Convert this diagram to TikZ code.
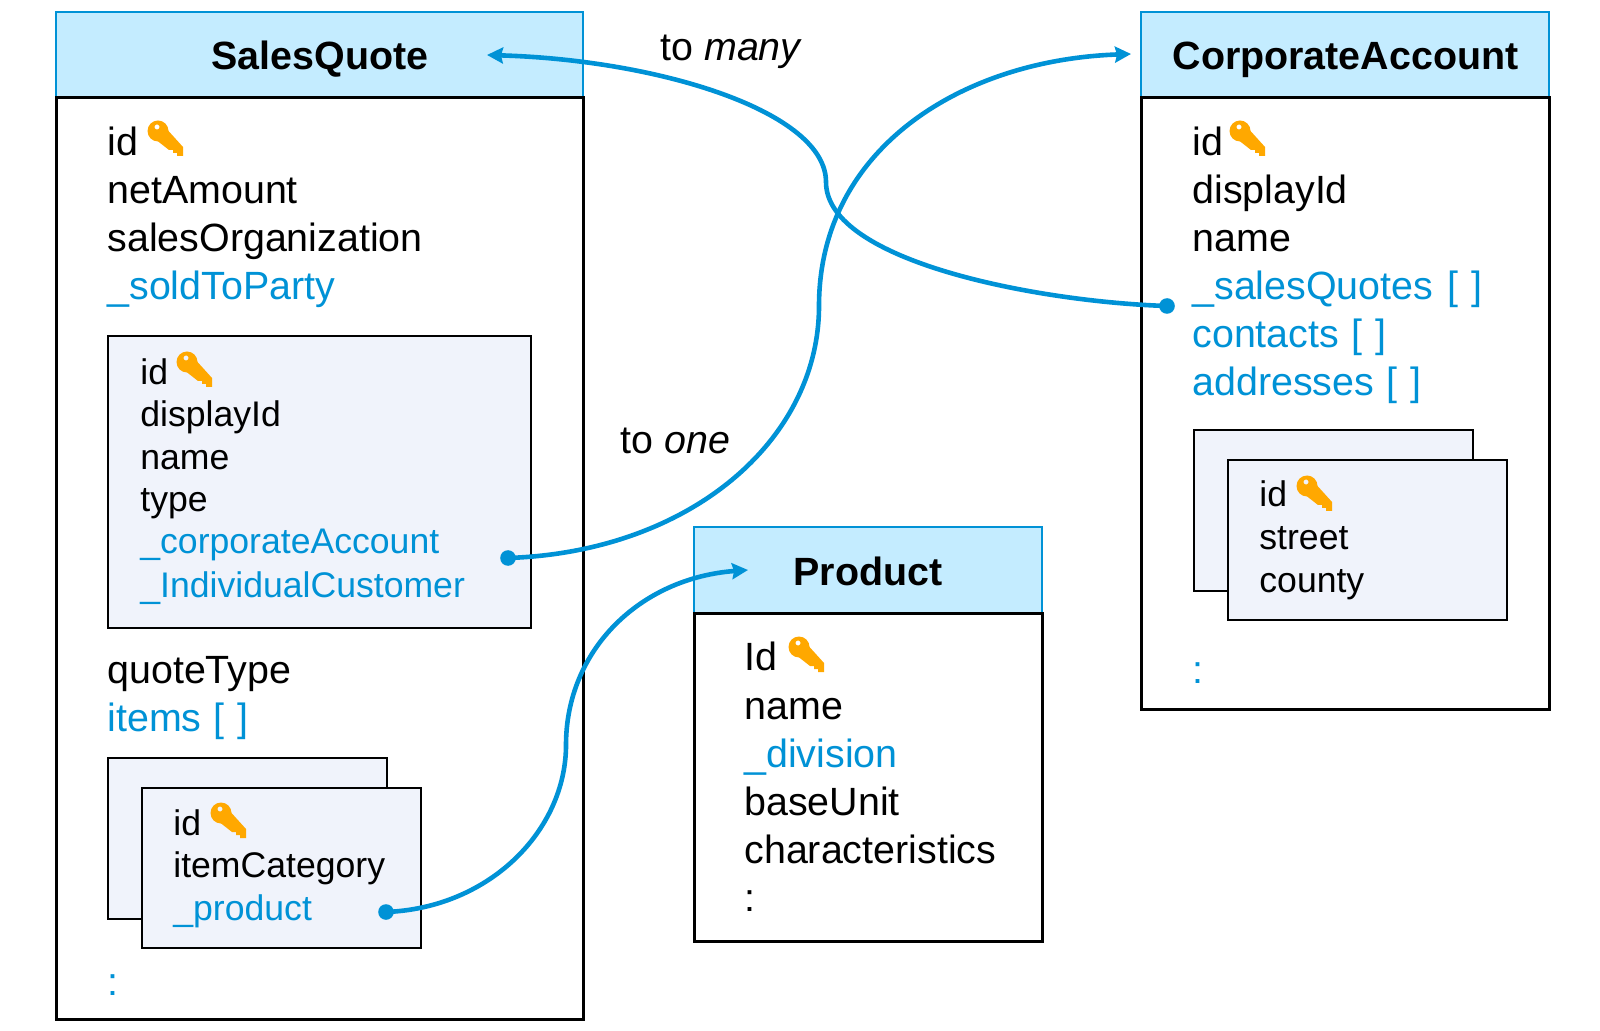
\documentclass[tikz,border=0pt]{standalone}
\usepackage{fontspec}
\setmainfont{Liberation Sans}
\usetikzlibrary{arrows.meta}
\definecolor{linkblue}{HTML}{0092D6}
\definecolor{headfill}{HTML}{C4ECFF}
\definecolor{innerfill}{HTML}{F0F3FB}
\definecolor{keyorange}{HTML}{FFA800}
\tikzset{
  x=0.5pt,y=-0.5pt,
  headbox/.style={draw=linkblue,fill=headfill,line width=1.4pt,inner sep=0pt},
  bodybox/.style={draw=black,fill=white,line width=1.5pt,inner sep=0pt},
  innerbox/.style={draw=black,fill=innerfill,line width=1.1pt,inner sep=0pt},
  title/.style={font=\fontsize{19.7pt}{24pt}\selectfont\bfseries,inner sep=0pt,anchor=base},
  txt/.style={font=\fontsize{19.7pt}{24pt}\selectfont,inner sep=0pt,anchor=base west},
  smalltxt/.style={font=\fontsize{17.8pt}{21pt}\selectfont,inner sep=0pt,anchor=base west},
  lnk/.style={text=linkblue},
  startdot/.style={circle,fill=linkblue,inner sep=0pt,minimum size=7.8pt},
  connector/.style={draw=linkblue,line width=2.3pt,-{Stealth[length=8pt,width=8pt,inset=1pt]}},
  key/.pic={
    \fill[keyorange,even odd rule] (0,0) circle[radius=10.5] (-1,-4) circle[radius=2.6];
    \fill[keyorange] (6,-5) -- (25,16) -- (25,25) -- (19,25) -- (19,22) -- (15,22) -- (15,19) -- (11,19) -- (-3,8) -- cycle;
  }
}
\newcommand{\rbox}[6]{\node[#2,minimum width={(#5-#3)*0.5pt},minimum height={(#6-#4)*0.5pt}] (#1) at ({(#3+#5)/2},{(#4+#6)/2}) {};}
\newcommand{\brk}{\hspace{0.31em}[\hspace{0.33em}]}
\begin{document}
\begin{tikzpicture}
\useasboundingbox (0,0) rectangle (1600,1031);
% SalesQuote
\rbox{sqhead}{headbox}{56}{12}{583}{98}
\rbox{sqbody}{bodybox}{56}{98}{583}{1019}
\node[title] (sqtitle) at (320,70) {SalesQuote};
\node[txt] (sq1) at (107,156) {id};
\pic at (158,131) {key};
\node[txt] (sq2) at (107,204) {netAmount};
\node[txt] (sq3) at (107,252) {salesOrganization};
\node[txt,lnk] (sq4) at (107,300) {\_soldToParty};
\rbox{party}{innerbox}{108}{336}{531}{628}
\node[smalltxt] (p1) at (140,385) {id};
\pic at (187,362) {key};
\node[smalltxt] (p2) at (140,427) {displayId};
\node[smalltxt] (p3) at (140,470) {name};
\node[smalltxt] (p4) at (140,512) {type};
\node[smalltxt,lnk] (p5) at (140,553) {\_corporateAccount};
\node[smalltxt,lnk] (p6) at (140,597) {\_IndividualCustomer};
\node[txt] (sq5) at (107,683) {quoteType};
\node[txt,lnk] (sq6) at (107,731) {items\brk};
\rbox{itemback}{innerbox}{108}{758}{387}{919}
\rbox{itemfront}{innerbox}{142}{788}{421}{948}
\node[smalltxt] (i1) at (173,835) {id};
\pic at (221,813) {key};
\node[smalltxt] (i2) at (173,877) {itemCategory};
\node[smalltxt,lnk] (i3) at (173,920) {\_product};
\node[txt,lnk] (sq7) at (107,995) {:};
% Product
\rbox{prhead}{headbox}{694}{527}{1042}{613}
\rbox{prbody}{bodybox}{694}{613}{1042}{941}
\node[title] (prtitle) at (868,585) {Product};
\node[txt] (pr1) at (744,670) {Id};
\pic at (799,647) {key};
\node[txt] (pr2) at (744,719) {name};
\node[txt,lnk] (pr3) at (744,767) {\_division};
\node[txt] (pr4) at (744,815) {baseUnit};
\node[txt] (pr5) at (744,863) {characteristics};
\node[txt] (pr6) at (744,911) {:};
% CorporateAccount
\rbox{cahead}{headbox}{1141}{12}{1549}{98}
\rbox{cabody}{bodybox}{1141}{98}{1549}{709}
\node[title] (catitle) at (1345.5,70) {CorporateAccount};
\node[txt] (ca1) at (1192,156) {id};
\pic at (1240,131) {key};
\node[txt] (ca2) at (1192,204) {displayId};
\node[txt] (ca3) at (1192,252) {name};
\node[txt,lnk] (ca4) at (1192,300) {\_salesQuotes\hspace{0.36em}[\hspace{0.33em}]};
\node[txt,lnk] (ca5) at (1192,348) {contacts\brk};
\node[txt,lnk] (ca6) at (1192,396) {addresses\brk};
\rbox{addrback}{innerbox}{1194}{430}{1473}{591}
\rbox{addrfront}{innerbox}{1228}{460}{1507}{620}
\node[smalltxt] (a1) at (1259,507) {id};
\pic at (1307,486) {key};
\node[smalltxt] (a2) at (1259,550) {street};
\node[smalltxt] (a3) at (1259,592) {county};
\node[txt,lnk] (ca7) at (1192,683) {:};
% Labels
\node[txt] (many) at (660,61) {to \textit{many}};
\node[txt] (one) at (620,454) {to \textit{one}};
% Connectors
\node[startdot] (d1) at (1167,306) {};
\node[startdot] (d2) at (508,558) {};
\node[startdot] (d3) at (386,912) {};
\coordinate (t1) at (487,55);
\coordinate (t2) at (1131,54);
\coordinate (t3) at (748,570);
\draw[connector] (d1.center) .. controls (1040,302) and (826,262) .. (826,182) .. controls (826,112) and (660,60) .. (t1);
\draw[connector] (d2.center) .. controls (690,552) and (819,440) .. (819,306) .. controls (819,150) and (960,60) .. (t2);
\draw[connector] (d3.center) .. controls (490,908) and (566,830) .. (566,745) .. controls (566,650) and (640,578) .. (t3);
\end{tikzpicture}
\end{document}
